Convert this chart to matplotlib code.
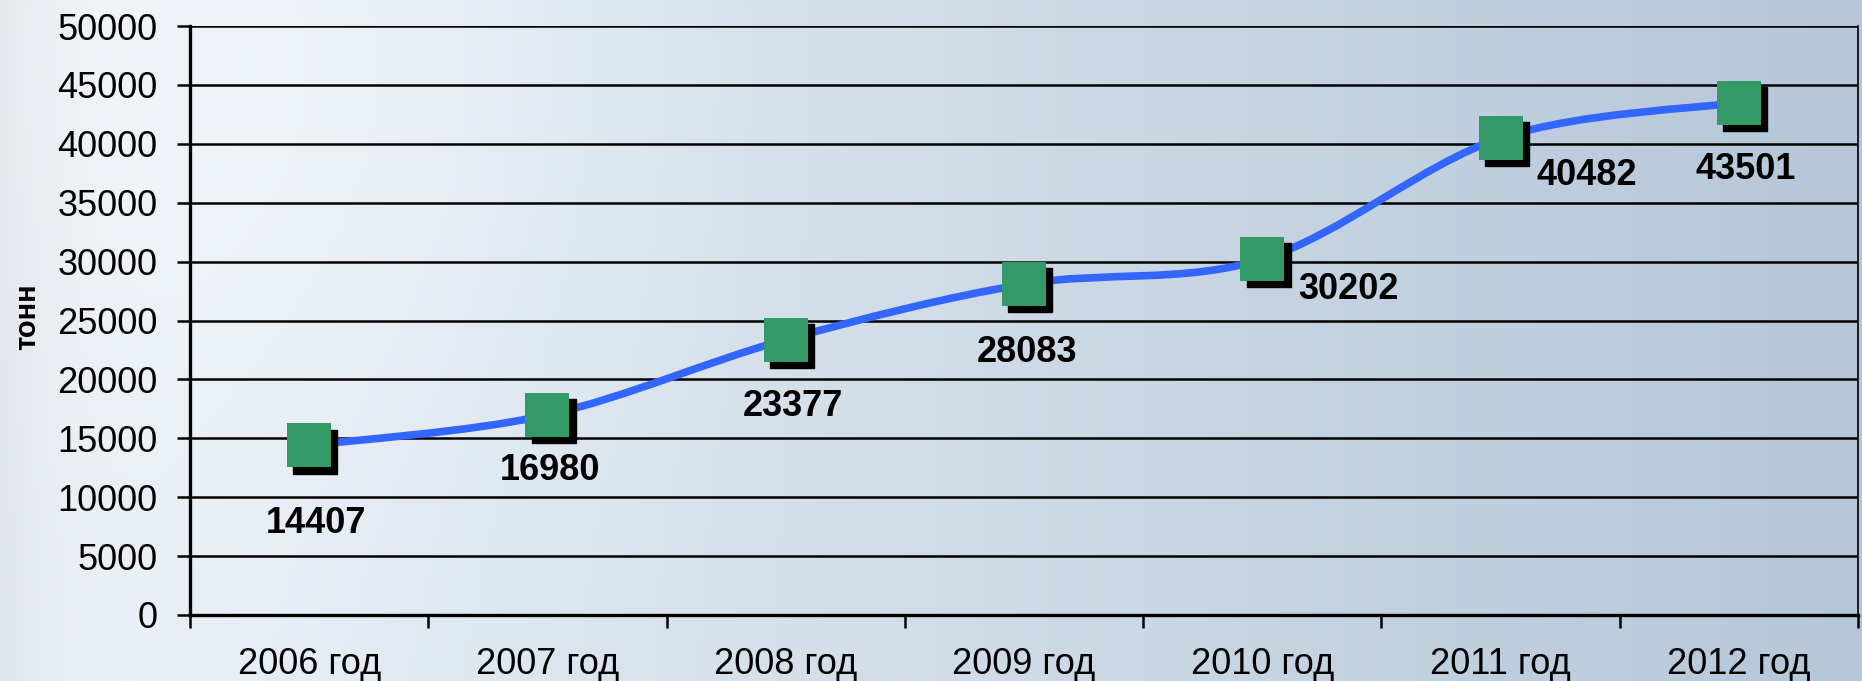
import numpy as np
import matplotlib.pyplot as plt
from matplotlib.path import Path
from matplotlib.patches import PathPatch
from matplotlib import transforms

plt.rcParams['font.family'] = ['Liberation Sans', 'DejaVu Sans']

# data
years = ["2006 год", "2007 год", "2008 год", "2009 год", "2010 год", "2011 год", "2012 год"]
tonnes = [14407, 16980, 23377, 28083, 30202, 40482, 43501]

# label offsets (points) relative to the point
label_offsets = [(5, -56), (2, -40), (5, -48), (2, -49), (62, -22), (62, -27), (5, -48)]

fig = plt.figure(figsize=(18.62, 6.81), dpi=100)

# background gradient
bg = fig.add_axes([0, 0, 1, 1], zorder=-1)
gx, gy = np.meshgrid(np.linspace(0, 1, 400), np.linspace(0, 1, 150))
left = np.array([0.93, 0.95, 0.97])
right = np.array([0.71, 0.78, 0.85])
t = np.clip((gx - 0.05) / 0.95, 0, 1) ** 0.9
img = left[None, None, :] * (1 - t[..., None]) + right[None, None, :] * t[..., None]
glow = np.exp(-((gx - 0.12) ** 2 / 0.04 + (gy - 0.1) ** 2 / 0.3))
img = img + (1 - img) * 0.35 * glow[..., None]
edge = np.exp(-gx / 0.04)
img = img - 0.05 * edge[..., None]
bg.imshow(np.clip(img, 0, 1), aspect='auto', extent=[0, 1, 0, 1], origin='upper')
bg.axis('off')

ax = fig.add_axes([190 / 1862, 1 - 615 / 681, (1858 - 190) / 1862, 589 / 681])
ax.set_facecolor('none')

x = np.arange(len(tonnes))
y = np.array(tonnes, dtype=float)

# smoothed line (bezier through points, like Excel)
verts = [(x[0], y[0])]
codes = [Path.MOVETO]
n = len(x)
for i in range(n - 1):
    p0 = np.array([x[max(i - 1, 0)], y[max(i - 1, 0)]])
    p1 = np.array([x[i], y[i]])
    p2 = np.array([x[i + 1], y[i + 1]])
    p3 = np.array([x[min(i + 2, n - 1)], y[min(i + 2, n - 1)]])
    c1 = p1 + (p2 - p0) / 6
    c2 = p2 - (p3 - p1) / 6
    verts += [tuple(c1), tuple(c2), tuple(p2)]
    codes += [Path.CURVE4] * 3
ax.add_patch(PathPatch(Path(verts, codes), facecolor='none', edgecolor='#3366ff',
                       lw=5.5, zorder=3, capstyle='butt'))

shadow = transforms.offset_copy(ax.transData, fig=fig, x=4.5, y=-4.5, units='points')
ax.plot(x, y, 's', ms=31, color='black', transform=shadow, zorder=4)
ax.plot(x, y, 's', ms=31, color='#339966', markeredgewidth=0, zorder=5)

for xi, yi, off in zip(x, tonnes, label_offsets):
    ax.annotate(str(yi), (xi, yi), xytext=off, textcoords='offset points',
                ha='center', va='center', fontsize=26, fontweight='bold', zorder=6)

ax.set_xlim(-0.5, len(years) - 0.5)
ax.set_ylim(0, 50000)
ax.set_yticks(np.arange(0, 50001, 5000))
ax.yaxis.grid(True, color='black', lw=1.8)
ax.set_axisbelow(True)

ax.set_xticks(np.arange(-0.5, len(years), 1))
ax.set_xticklabels([])
ax.set_xticks(x, minor=True)
ax.set_xticklabels(years, minor=True)
ax.tick_params(axis='x', which='major', direction='out', length=9.5, width=1.8)
ax.tick_params(axis='x', which='minor', length=0, pad=23, labelsize=26)
ax.tick_params(axis='y', direction='out', length=9.5, width=1.8, pad=14, labelsize=26)

ax.spines['top'].set_visible(False)
ax.spines['left'].set_linewidth(2.4)
ax.spines['bottom'].set_linewidth(2.4)
ax.spines['right'].set_linewidth(1.2)

ax.set_ylabel("тонн", fontsize=21, fontweight='bold')
ax.yaxis.set_label_coords(-0.089, (615 - 317) / 589)

fig.savefig("out.png", dpi=100)
